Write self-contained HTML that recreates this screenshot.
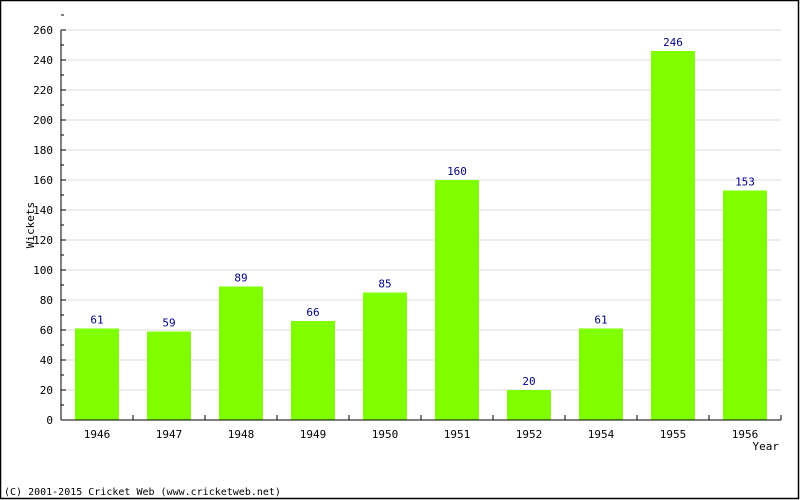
<!DOCTYPE html>
<html><head><meta charset="utf-8"><style>body{margin:0}svg{display:block}</style></head><body>
<svg width="800" height="500" xmlns="http://www.w3.org/2000/svg" font-family="'DejaVu Sans Mono','Liberation Mono',monospace">
<rect x="0.5" y="0.5" width="798" height="498" fill="#fff" stroke="#000" stroke-width="1.5"/>
<g id="grid"></g><g id="bars"></g><g id="axes"></g>
<text x="34" y="225" font-size="11" text-anchor="middle" transform="rotate(-90 34 225)">Wickets</text>
<text x="779" y="450" font-size="11" text-anchor="end">Year</text>
<text x="4" y="495" font-size="10">(C) 2001-2015 Cricket Web (www.cricketweb.net)</text>
</svg>
<script>
const categories=["1946","1947","1948","1949","1950","1951","1952","1954","1955","1956"];
const values=[61,59,89,66,85,160,20,61,246,153];
const yTicks=[0,20,40,60,80,100,120,140,160,180,200,220,240,260];
const NS="http://www.w3.org/2000/svg";
const L=61,R=781,T=30,B=420,ymax=260;
const y=v=>B-(v/ymax)*(B-T);
const step=(R-L)/categories.length;
const x=i=>L+step*i+step/2;
function mk(t,a,p){const e=document.createElementNS(NS,t);for(const k in a)e.setAttribute(k,a[k]);p.appendChild(e);return e;}
const grid=document.getElementById('grid'),bars=document.getElementById('bars'),axes=document.getElementById('axes');
yTicks.forEach(v=>{
 if(v>0){const g=mk('line',{x1:L,x2:R,y1:y(v),y2:y(v),stroke:'#ddd'},grid);}
 const t=mk('line',{x1:L,x2:L+5,y1:y(v),y2:y(v),stroke:'#000'},axes);
 const m=mk('line',{x1:L,x2:L+3,y1:y(v+10),y2:y(v+10),stroke:'#000'},axes);
 const l=mk('text',{x:L-8,y:y(v)+4,'font-size':11,'text-anchor':'end'},axes);l.textContent=v;
});
categories.forEach((c,i)=>{
 const b=mk('rect',{x:x(i)-22,y:y(values[i]),width:44,height:B-y(values[i]),fill:'#80ff00'},bars);
 
 const v=mk('text',{x:x(i),y:y(values[i])-5,'font-size':11,'text-anchor':'middle',fill:'#00008b'},bars);v.textContent=values[i];
 
 const l=mk('text',{x:x(i),y:B+18,'font-size':11,'text-anchor':'middle'},axes);l.textContent=c;
 
 const t=mk('line',{x1:L+step*(i+1),x2:L+step*(i+1),y1:B,y2:B-5,stroke:'#000'},axes);
 
});
const ya=mk('line',{x1:L,x2:L,y1:T,y2:B,stroke:'#000'},axes);
const xa=mk('line',{x1:L,x2:R,y1:B,y2:B,stroke:'#000'},axes);
</script>
</body></html>
